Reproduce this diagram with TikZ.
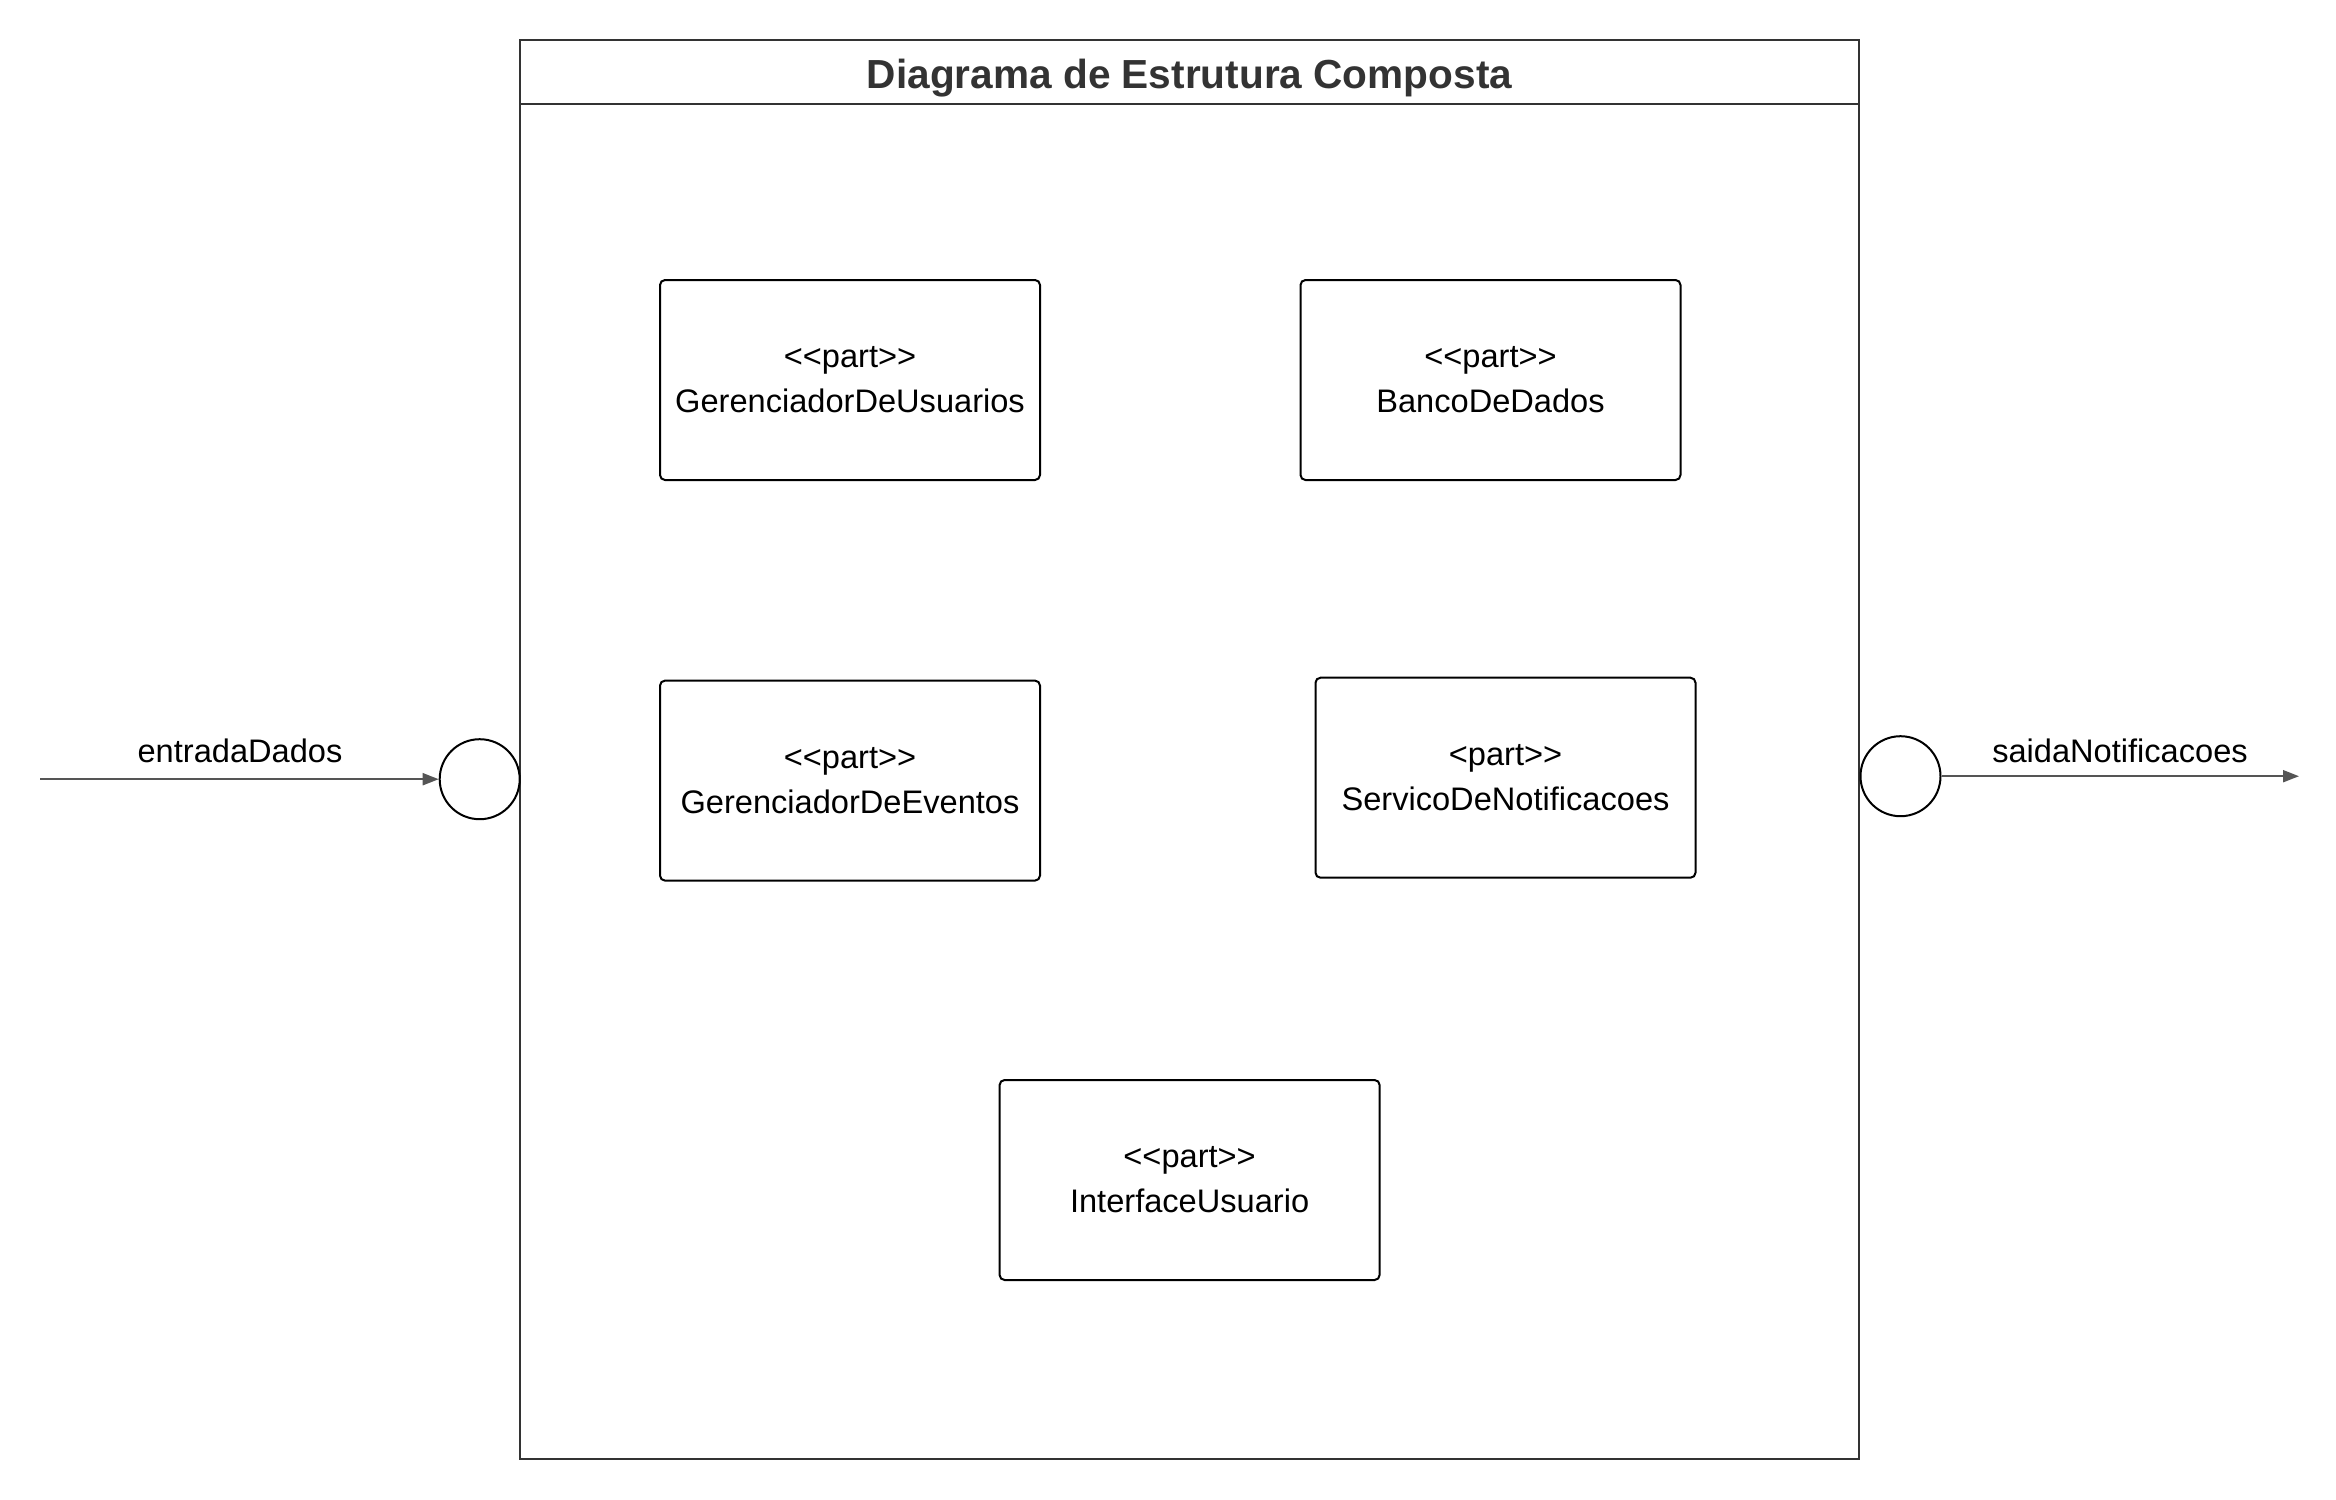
\documentclass[tikz,border=0pt]{standalone}
\usepackage{fontspec}
\setmainfont{Liberation Sans}
\usetikzlibrary{arrows.meta}
\definecolor{framec}{HTML}{333333}
\definecolor{arrowc}{HTML}{555555}
\begin{document}
\begin{tikzpicture}[x=0.5pt,y=-0.5pt,
  partbox/.style={draw=black,line width=1pt,rounded corners=2.5pt,minimum width=190pt,minimum height=100pt,align=center,inner sep=0pt,font=\fontsize{16.3}{22.4}\selectfont},
  port/.style={draw=black,line width=1pt,circle,minimum size=40pt,inner sep=0pt,fill=white},
  flow/.style={draw=arrowc,line width=1pt,-{Triangle[length=8pt,width=6pt]}},
  flowlabel/.style={font=\fontsize{16.3}{20}\selectfont,inner sep=0pt}]
\useasboundingbox (0,0) rectangle (2336,1500);
\node[draw=framec,line width=1pt,minimum width=669.5pt,minimum height=709.2pt,inner sep=0pt] (frame) at (1189.6,749.3) {};
\coordinate (tl) at (520,104.3);
\coordinate (tr) at (1859.3,104.3);
\draw[framec,line width=1pt] (tl) -- (tr);
\node[font=\fontsize{20.3}{24}\bfseries\selectfont,text=framec,inner sep=0pt] (title) at (1189.6,78) {Diagrama de Estrutura Composta};
\node[partbox] (gu) at (850,380) {{<}{<}part{>}{>}\\GerenciadorDeUsuarios};
\node[partbox] (bd) at (1490.5,380) {{<}{<}part{>}{>}\\BancoDeDados};
\node[partbox] (ge) at (850,780.6) {{<}{<}part{>}{>}\\GerenciadorDeEventos};
\node[partbox] (sn) at (1505.5,777.7) {{<}part{>}{>}\\ServicoDeNotificacoes};
\node[partbox] (iu) at (1189.6,1180) {{<}{<}part{>}{>}\\InterfaceUsuario};
\node[port] (pin) at (479.7,779.2) {};
\node[port] (pout) at (1900.5,776.2) {};
\coordinate (src) at (40,779.2);
\coordinate (dst) at (2299,776.2);
\draw[flow] (src) -- (pin);
\draw[flow] (pout) -- (dst);
\node[flowlabel] (lin) at (240,751) {entradaDados};
\node[flowlabel] (lout) at (2120,751) {saidaNotificacoes};
\end{tikzpicture}
\end{document}
